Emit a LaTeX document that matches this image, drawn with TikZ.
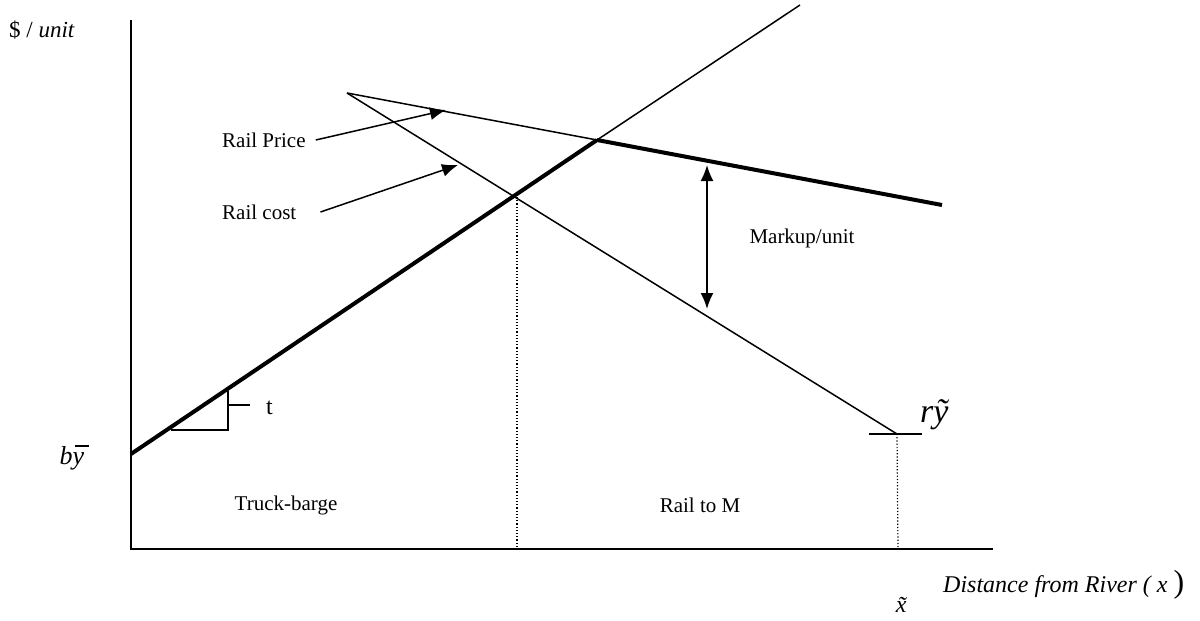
\documentclass[tikz,border=0pt]{standalone}
\usepackage{fontspec}
\setmainfont{Liberation Serif}
\usetikzlibrary{arrows.meta}
\begin{document}
\begin{tikzpicture}[x=1pt,y=-1pt,
  txt/.style={font=\fontsize{21}{24}\selectfont, inner sep=0pt},
  axis/.style={line width=2pt},
  thinline/.style={line width=1.5pt},
  boldline/.style={line width=4pt},
  guide/.style={line width=1.2pt, dotted},
  pointer/.style={line width=1.5pt, -{Latex[length=16pt,width=13pt]}},
  markup/.style={line width=1.8pt, {Latex[length=16pt,width=13pt]}-{Latex[length=16pt,width=13pt]}}]
\useasboundingbox (0,0) rectangle (1200,621);
% axes
\coordinate (O) at (131,549);
\coordinate (Ytop) at (131,20);
\coordinate (Xend) at (993,549);
\draw[axis] (Ytop) -- (O) -- (Xend);
% key points
\coordinate (B) at (131,454);
\coordinate (K) at (513,197);
\coordinate (P) at (597,140);
\coordinate (Tend) at (800,5);
\coordinate (S) at (347,93);
\coordinate (Pend) at (942,205);
\coordinate (Cend) at (897,434);
% truck-barge line
\draw[boldline] (B) -- (P);
\draw[thinline] (P) -- (Tend);
% rail price
\draw[thinline] (S) -- (P);
\draw[boldline] (P) -- (Pend);
% rail cost
\draw[thinline] (S) -- (Cend);
% ry tick
\coordinate (RyL) at (869,434);
\coordinate (RyR) at (922,434);
\draw[thinline] (RyL) -- (RyR);
% dotted guides
\coordinate (Kx) at (517,549);
\coordinate (Kt) at (517,197);
\coordinate (Cx) at (898,549);
\draw[guide] (Kt) -- (Kx);
\draw[guide] (Cend) -- (Cx);
% slope triangle
\coordinate (T1) at (171,430);
\coordinate (T2) at (228,430);
\coordinate (T3) at (228,391);
\coordinate (Tm) at (228,405);
\coordinate (Tt) at (250,405);
\draw[thinline] (T1) -- (T2) -- (T3);
\draw[thinline] (Tm) -- (Tt);
\node[txt, anchor=west, font=\fontsize{24}{26}\selectfont] (tlab) at (266,408) {t};
% labels
\node[txt, anchor=west, font=\fontsize{23}{26}\selectfont] (yax) at (9,30) {\$ / \textit{unit}};
\node[inner sep=0pt, font=\fontsize{26}{28}\selectfont] (by) at (72,458) {\textit{b}\makebox[0pt][l]{\hspace{0.08em}\raisebox{0.7em}{\rule{0.55em}{0.05em}}}\textit{y}\hspace{0.1em}};
\node[inner sep=0pt, font=\fontsize{34}{36}\selectfont, anchor=west] (ry) at (920,415) {\textit{r\~{y}}};
\node[txt, anchor=west] (rp) at (222,140) {Rail Price};
\node[txt, anchor=west] (rc) at (222,212) {Rail cost};
\node[txt, anchor=center] (mu) at (802,238) {Markup/unit};
\node[txt, anchor=center] (tb) at (286,505) {Truck-barge};
\node[txt, anchor=center] (rm) at (700,505) {Rail to M};
\node[txt, anchor=west, font=\fontsize{24}{26}\selectfont] (dist) at (943,585) {\textit{Distance from River ( x }{\fontsize{32}{34}\selectfont)}};
\node[inner sep=0pt, anchor=center, font=\fontsize{24}{26}\selectfont] (xt) at (906,605) {\textit{\~{x}}};
% pointer arrows
\coordinate (rpTip) at (446,110);
\coordinate (rcTip) at (458,165);
\draw[pointer] (rp.east) ++(10,0) coordinate (rpS) (rpS) -- (rpTip);
\draw[pointer] (rc.east) ++(24,0) coordinate (rcS) (rcS) -- (rcTip);
% markup arrow
\coordinate (Mtop) at (707,165);
\coordinate (Mbot) at (707,309);
\draw[markup] (Mtop) -- (Mbot);
\end{tikzpicture}
\end{document}
